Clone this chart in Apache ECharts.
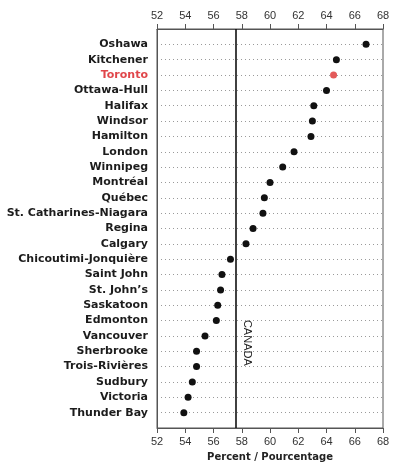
<!DOCTYPE html>
<html>
<head>
<meta charset="utf-8">
<style>
  html, body { margin: 0; padding: 0; background: #fff; }
  #chart { width: 393px; height: 467px; }
</style>
<script src="https://cdn.jsdelivr.net/npm/echarts@6/dist/echarts.min.js"></script>
</head>
<body>
<div id="chart"></div>
<script>
// Census metropolitan areas, top to bottom
const cities = [
  'Oshawa', 'Kitchener', 'Toronto', 'Ottawa-Hull', 'Halifax', 'Windsor',
  'Hamilton', 'London', 'Winnipeg', 'Montréal', 'Québec',
  'St. Catharines-Niagara', 'Regina', 'Calgary', 'Chicoutimi-Jonquière',
  'Saint John', 'St. John\u2019s', 'Saskatoon', 'Edmonton', 'Vancouver',
  'Sherbrooke', 'Trois-Rivières', 'Sudbury', 'Victoria', 'Thunder Bay'
];
// Percent for each area
const percents = [
  66.8, 64.7, 64.5, 64.0, 63.1, 63.0,
  62.9, 61.7, 60.9, 60.0, 59.6,
  59.5, 58.8, 58.3, 57.2,
  56.6, 56.5, 56.3, 56.2, 55.4,
  54.8, 54.8, 54.5, 54.2, 53.9
];
// National reference value
const canadaValue = 57.6;
const canadaLabel = 'CANADA';
const highlightCity = 'Toronto';
// Axis ticks
const xTicks = [52, 54, 56, 58, 60, 62, 64, 66, 68];
const axisTitle = 'Percent / Pourcentage';

const ink = '#1c1c1c';
const red = '#e0464a';
const labelFont = 'DejaVu Sans';

const points = percents.map((v, i) => {
  const p = { value: [v, i] };
  if (cities[i] === highlightCity) p.itemStyle = { color: '#e35a5a', opacity: 1 };
  return p;
});

const xCommon = {
  type: 'value',
  min: xTicks[0],
  max: xTicks[xTicks.length - 1],
  interval: xTicks[1] - xTicks[0],
  axisLine: { show: true, onZero: false, lineStyle: { color: '#555', width: 1 } },
  axisTick: { show: true, inside: false, length: 5, lineStyle: { color: '#555' } },
  axisLabel: { color: '#333', fontFamily: 'Liberation Sans', fontSize: 11, margin: 8 },
  splitLine: { show: false }
};

// Label placed along a short invisible stretch of the national line
const canadaLabelStyle = {
  show: true,
  position: 'insideMiddleTop',
  distance: 5,
  formatter: canadaLabel,
  color: '#222',
  fontFamily: 'Liberation Sans',
  fontSize: 11
};
const hiddenLine = { color: 'rgba(0,0,0,0)', width: 0 };

const chart = echarts.init(document.getElementById('chart'), null, { renderer: 'canvas' });
chart.setOption({
  animation: false,
  backgroundColor: '#fff',
  grid: {
    left: 157, right: 10, top: 29, bottom: 38,
    show: true, borderColor: '#555', borderWidth: 1
  },
  xAxis: [
    Object.assign({}, xCommon, {
      position: 'bottom',
      name: axisTitle,
      nameLocation: 'middle',
      nameGap: 24,
      nameTextStyle: { color: '#222', fontFamily: labelFont, fontSize: 10, fontWeight: 'bold' }
    }),
    Object.assign({}, xCommon, { position: 'top' })
  ],
  yAxis: {
    type: 'value',
    min: -1,
    max: cities.length,
    interval: 1,
    inverse: true,
    axisLine: { show: true, onZero: false, lineStyle: { color: '#555' } },
    axisTick: { show: false },
    axisLabel: {
      margin: 9,
      color: ink,
      fontFamily: labelFont,
      fontSize: 11,
      fontWeight: 'bold',
      formatter: v => {
        const name = cities[v];
        if (!name) return '';
        return name === highlightCity ? '{hl|' + name + '}' : name;
      },
      rich: {
        hl: { color: red, fontFamily: labelFont, fontSize: 11, fontWeight: 'bold' }
      }
    },
    splitLine: { show: true, lineStyle: { color: '#9a9a9a', type: [1, 3], width: 1 } }
  },
  series: [{
    type: 'scatter',
    xAxisIndex: 0,
    symbol: 'circle',
    symbolSize: 7,
    itemStyle: { color: '#111', opacity: 1 },
    data: points,
    z: 5,
    markLine: {
      silent: true,
      symbol: 'none',
      animation: false,
      data: [
        {
          xAxis: canadaValue,
          lineStyle: { color: '#111', width: 1.6, type: 'solid' },
          label: { show: false }
        },
        [
          { coord: [canadaValue, 17.45], lineStyle: hiddenLine, label: canadaLabelStyle },
          { coord: [canadaValue, 21.45], lineStyle: hiddenLine, label: canadaLabelStyle }
        ]
      ]
    }
  }]
});
</script>
</body>
</html>
